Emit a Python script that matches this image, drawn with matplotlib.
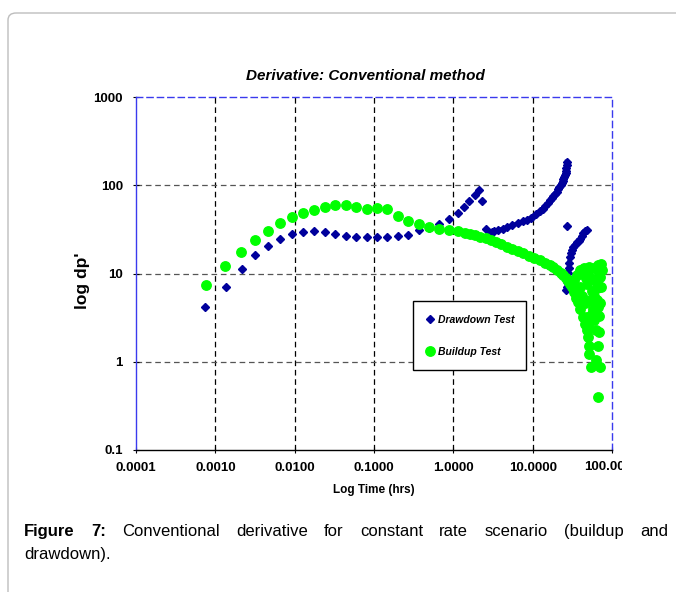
"""Derivative plot: conventional method, drawdown vs buildup."""

import matplotlib
matplotlib.use("Agg")
import matplotlib.pyplot as plt
from matplotlib.lines import Line2D
from matplotlib.patches import FancyBboxPatch
from matplotlib.transforms import Bbox

plt.rcParams["font.family"] = ["Liberation Sans", "DejaVu Sans"]

# drawdown test, early points
dd_t = [7.5e-4, 1.35e-3, 2.14e-3, 3.19e-3, 4.6e-3, 6.6e-3, 9.2e-3, 0.0126, 0.0174,
        0.0239, 0.0326, 0.0444, 0.0598, 0.0817, 0.109, 0.147, 0.201, 0.271, 0.366,
        0.493, 0.665, 0.89, 1.16, 1.38, 1.58, 1.86, 2.11, 2.32, 2.56]
dd_dp = [4.2, 7.0, 11.3, 16.1, 20.5, 24.6, 28.0, 29.8, 30.0, 29.3, 27.8, 26.8, 26.1,
         25.8, 25.8, 26.1, 26.6, 27.4, 31.1, 33.0, 36.4, 41.8, 48.5, 56.7, 66.4,
         76.9, 89.0, 66.4, 32.2]
# drawdown test, dense late branch
dd_band_t = [2.9, 3.05, 3.3, 3.7, 4.2, 4.7, 5.5, 6.5, 7.5, 8.4, 9.5, 10.9, 12.4, 13.5,
             14.5, 15.5, 16.6, 17.4, 18.2, 19.2, 20.1, 21.0, 21.7, 22.5, 23.2, 23.8,
             24.4, 25.0, 25.6, 26.0, 26.3, 26.6, 26.8, 26.9]
dd_band_dp = [28.5, 29.3, 30.0, 31.0, 32.2, 33.4, 35.0, 37.0, 39.0, 40.4, 43.0, 47.0,
              51.0, 54.5, 58.0, 63.0, 68.0, 71.5, 75.0, 80.0, 84.5, 90.0, 95.0, 100.0,
              105.0, 111.0, 118.0, 124.0, 131.0, 138.0, 145.0, 155.0, 170.0, 185.0]
# drawdown test, second branch after rate change
dd_late_t = [26.8, 26.6, 26.8, 27.2, 27.6, 28.0, 28.4, 28.8, 29.5, 30.5, 31.5, 32.6,
             34.2, 36.0, 38.0, 39.5, 41.5, 43.5, 45.5, 48.0]
dd_late_dp = [34.8, 6.5, 7.1, 8.0, 9.0, 10.2, 11.5, 13.0, 15.5, 17.0, 18.5, 20.1, 21.0,
              22.5, 23.5, 24.5, 26.5, 28.5, 30.0, 31.1]

# buildup test, early points
bu_t = [7.6e-4, 1.34e-3, 2.13e-3, 3.19e-3, 4.6e-3, 6.5e-3, 9.2e-3, 0.0126, 0.0174,
        0.0239, 0.0326, 0.0444, 0.0598, 0.0817, 0.109, 0.147, 0.201, 0.271, 0.366,
        0.493, 0.665, 0.89, 1.16]
bu_dp = [7.35, 12.2, 17.5, 23.8, 30.5, 37.0, 43.4, 48.5, 52.8, 56.7, 59.7, 59.4, 56.7,
         53.3, 55.7, 53.3, 44.5, 39.4, 36.4, 33.6, 31.7, 30.8, 30.0]
# buildup test, dense late branch
bu_band_t = [1.4, 1.6, 1.9, 2.2, 2.6, 3.0, 3.5, 4.0, 4.7, 5.5, 6.5, 7.6, 9.0, 10.5,
             12.4, 14.5, 16.6, 18.2, 20.5, 22.5, 24.4, 26.5, 28.0, 29.6, 31.0, 33.0,
             35.0, 37.0, 40.0, 43.5, 46.0, 48.0]
bu_band_dp = [29.0, 28.0, 27.0, 26.0, 25.0, 24.0, 22.8, 21.5, 20.1, 19.0, 17.8, 16.9,
              15.8, 15.0, 14.2, 13.3, 12.6, 11.9, 11.0, 10.2, 9.6, 8.8, 8.2, 7.7, 7.0,
              6.1, 5.3, 4.7, 4.0, 3.2, 2.7, 2.3]
# buildup test, scattered end of test
bu_end_t = [39.5, 35.5, 38.0, 41.5, 45.7, 48.0, 43.5, 50.0, 59.0, 67.0, 74.0, 70.6,
            61.0, 64.0, 56.0, 59.0, 64.0, 70.6, 67.0, 48.0, 59.0, 49.4, 62.4, 69.0,
            50.5, 67.0, 52.0, 51.8, 62.4, 53.9, 70.6, 67.3, 40.0, 44.0, 52.0, 55.0,
            47.0, 68.0, 72.0, 66.0, 72.0, 53.0, 58.0, 69.0, 56.0, 33.0, 36.0]
bu_end_dp = [7.1, 6.8, 6.0, 5.5, 4.6, 7.7, 10.0, 10.6, 11.5, 12.5, 11.0, 9.2, 8.4, 6.8,
             6.3, 5.5, 5.0, 4.6, 4.2, 3.2, 2.97, 2.61, 2.29, 2.15, 1.92, 1.52, 1.51,
             1.22, 1.05, 0.88, 0.87, 0.40, 11.0, 11.5, 12.0, 9.0, 9.0, 10.5, 12.8, 7.5,
             7.0, 5.0, 4.0, 3.3, 3.5, 8.5, 9.5]

x_ticks = [1e-4, 1e-3, 1e-2, 1e-1, 1, 10, 100]
x_labels = ["0.0001", "0.0010", "0.0100", "0.1000", "1.0000", "10.0000", ""]
y_ticks = [0.1, 1, 10, 100, 1000]
y_labels = ["0.1", "1", "10", "100", "1000"]

BLUE = "#00009c"
GREEN = "#00ff00"
SPINE = "#3a3aee"

fig = plt.figure(figsize=(6.76, 5.92), dpi=100)

# card border behind the figure
card = FancyBboxPatch((8 / 676, -0.1), 1.2, 1 - 13 / 592 + 0.1,
                      boxstyle="round,pad=0,rounding_size=0.012",
                      transform=fig.transFigure, fc="none", ec="#bdbdbd", lw=1.0)
fig.patches.append(card)

ax = fig.add_axes([136 / 676, 1 - 450 / 592, 476 / 676, 353 / 592])
ax.set_xscale("log")
ax.set_yscale("log")
ax.set_xlim(1e-4, 100)
ax.set_ylim(0.1, 1000)

dash = (0, (4.5, 3))
for xv in x_ticks[1:-1]:
    ax.axvline(xv, color="black", lw=0.9, ls=dash, zorder=1)
for yv in y_ticks[1:-1]:
    ax.axhline(yv, color="#555555", lw=0.9, ls=dash, zorder=1)

ax.spines["top"].set_color(SPINE)
ax.spines["top"].set_linestyle(dash)
ax.spines["right"].set_color(SPINE)
ax.spines["right"].set_linestyle(dash)
ax.spines["left"].set_color(SPINE)
ax.spines["bottom"].set_color("black")
for s in ax.spines.values():
    s.set_linewidth(1.0)

# drawdown
ax.plot(dd_band_t, dd_band_dp, color=BLUE, lw=3.0, zorder=2)
ax.plot(dd_late_t[1:], dd_late_dp[1:], color=BLUE, lw=3.0, zorder=2)
for t, dp in [(dd_t, dd_dp), (dd_band_t, dd_band_dp), (dd_late_t, dd_late_dp)]:
    ax.plot(t, dp, ls="none", marker="D", ms=3.6, color=BLUE, zorder=3)

# buildup
ax.plot(bu_band_t, bu_band_dp, color=GREEN, lw=5.0, zorder=4)
for t, dp in [(bu_t, bu_dp), (bu_band_t, bu_band_dp), (bu_end_t, bu_end_dp)]:
    ax.plot(t, dp, ls="none", marker="o", ms=6.8, color=GREEN, zorder=5)

ax.minorticks_off()
ax.set_xticks(x_ticks)
ax.set_xticklabels(x_labels)
ax.set_yticks(y_ticks)
ax.set_yticklabels(y_labels)
ax.tick_params(axis="both", direction="inout", length=5, width=0.8, labelsize=9.5)
ax.tick_params(axis="x", pad=6)
ax.tick_params(axis="y", pad=7)
for lab in ax.get_xticklabels() + ax.get_yticklabels():
    lab.set_fontweight("bold")

ax.set_title("Derivative: Conventional method", fontsize=11, fontweight="bold",
             fontstyle="italic", pad=12, x=0.481)
ax.set_xlabel("Log Time (hrs)", fontsize=8.5, fontweight="bold", labelpad=7)
ax.set_ylabel("log dp'", fontsize=12.5, fontweight="bold")
ax.yaxis.set_label_coords(-0.097, 0.48)

handles = [
    Line2D([], [], ls="none", marker="D", ms=3.6, color=BLUE, label="Drawdown Test"),
    Line2D([], [], ls="none", marker="o", ms=6.8, color=GREEN, label="Buildup Test"),
]
leg = ax.legend(handles=handles, loc="center",
                bbox_to_anchor=(0.581, 0.222, 0.238, 0.203), mode="expand",
                borderaxespad=0, fancybox=False, framealpha=1, edgecolor="black",
                prop={"size": 7.5, "weight": "bold", "style": "italic"},
                labelspacing=2.1, borderpad=1.3, handlelength=0.8,
                handletextpad=0.3)
leg.get_frame().set_linewidth(1.0)

# last x label is clipped at the chart edge in the original
clip_lab = fig.text(612 / 676, 1 - 467.5 / 592, "100.0000", ha="center", va="center",
                    fontsize=9.5, fontweight="bold")
clip_lab.set_clip_box(Bbox([[0, 0], [622, 592]]))
clip_lab.set_clip_on(True)

# justified caption
renderer = fig.canvas.get_renderer()


def place_line(words, y_px, x0, x1, justify):
    texts = []
    for w, bold in words:
        t = fig.text(0, 1 - y_px / 592, w, fontsize=12, va="baseline",
                     fontweight="bold" if bold else "normal")
        texts.append(t)
    widths = [t.get_window_extent(renderer).width for t in texts]
    space = texts[0].get_fontsize() * 100 / 72 * 0.28
    gap = (x1 - x0 - sum(widths)) / (len(texts) - 1) if justify else space
    x = x0
    for t, w in zip(texts, widths):
        t.set_x(x / 676)
        x += w + gap


line1 = [("Figure", True), ("7:", True)] + [
    (w, False) for w in "Conventional derivative for constant rate scenario (buildup and".split()]
place_line(line1, 536, 24, 668, True)
place_line([("drawdown).", False)], 559, 24, 668, False)

fig.savefig("out.png", dpi=100)
